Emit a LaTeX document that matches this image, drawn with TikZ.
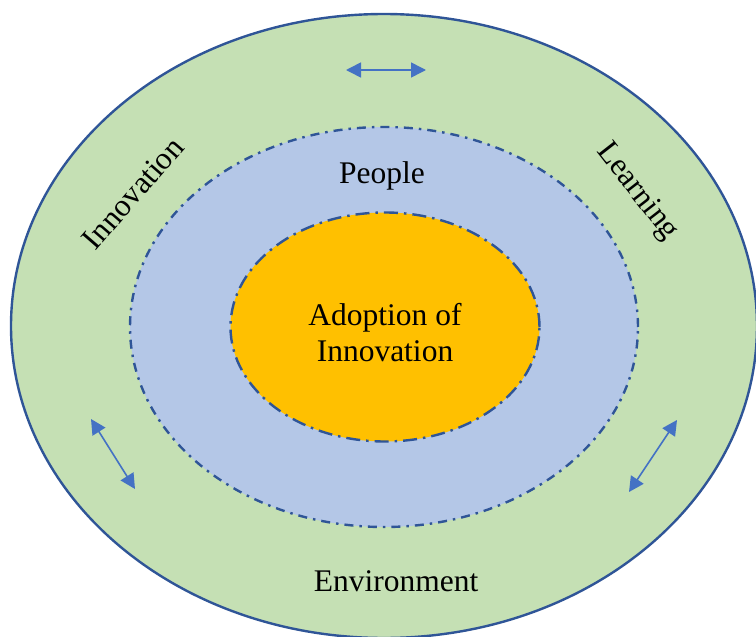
\documentclass[tikz,border=0pt]{standalone}
\usepackage{fontspec}
\setmainfont{Liberation Serif}
\usetikzlibrary{arrows.meta,shapes.geometric}
\definecolor{envgreen}{HTML}{C5E0B4}
\definecolor{peopleblue}{HTML}{B4C7E7}
\definecolor{coregold}{HTML}{FFC000}
\definecolor{rimblue}{HTML}{2F5597}
\definecolor{arrowblue}{HTML}{4472C4}
\tikzset{
  ring/.style={ellipse, inner sep=0pt, draw=rimblue, line width=2.4pt},
  lbl/.style={font=\fontsize{31.5}{36}\selectfont, align=center, inner sep=0pt},
  twoway/.style={arrowblue, line width=1.6pt,
    {Triangle[length=15pt,width=15pt]}-{Triangle[length=15pt,width=15pt]}}
}
\begin{document}
\begin{tikzpicture}[x=1pt,y=-1pt]
\useasboundingbox (0,0) rectangle (756,637);
% environment ring
\node[ring, fill=envgreen, minimum width=746pt, minimum height=624pt] (env) at (384,326) {};
% people ring
\node[ring, fill=peopleblue, minimum width=508pt, minimum height=400pt,
  dash pattern=on 9pt off 6pt on 2.5pt off 6pt] (ppl) at (384,327) {};
% core
\node[ring, fill=coregold, minimum width=309pt, minimum height=229pt,
  dash pattern=on 14pt off 6pt on 2.5pt off 6pt] (core) at (385,327) {};
% labels
\node[lbl] (tcore) at (385,333) {Adoption of\\Innovation};
\node[lbl] (tppl) at (382,176) {People};
\node[lbl] (tenv) at (396,581) {Environment};
\node[lbl, rotate=49] (tinno) at (133,193) {Innovation};
\node[lbl, rotate=-52] (tlearn) at (637,192) {Learning};
% two-way arrows
\coordinate (a1) at (346,70);  \coordinate (a2) at (426,70);
\coordinate (b1) at (91,419);  \coordinate (b2) at (135,489);
\coordinate (c1) at (677,420); \coordinate (c2) at (629,492);
\draw[twoway] (a1) -- (a2);
\draw[twoway] (b1) -- (b2);
\draw[twoway] (c1) -- (c2);
\end{tikzpicture}
\end{document}
